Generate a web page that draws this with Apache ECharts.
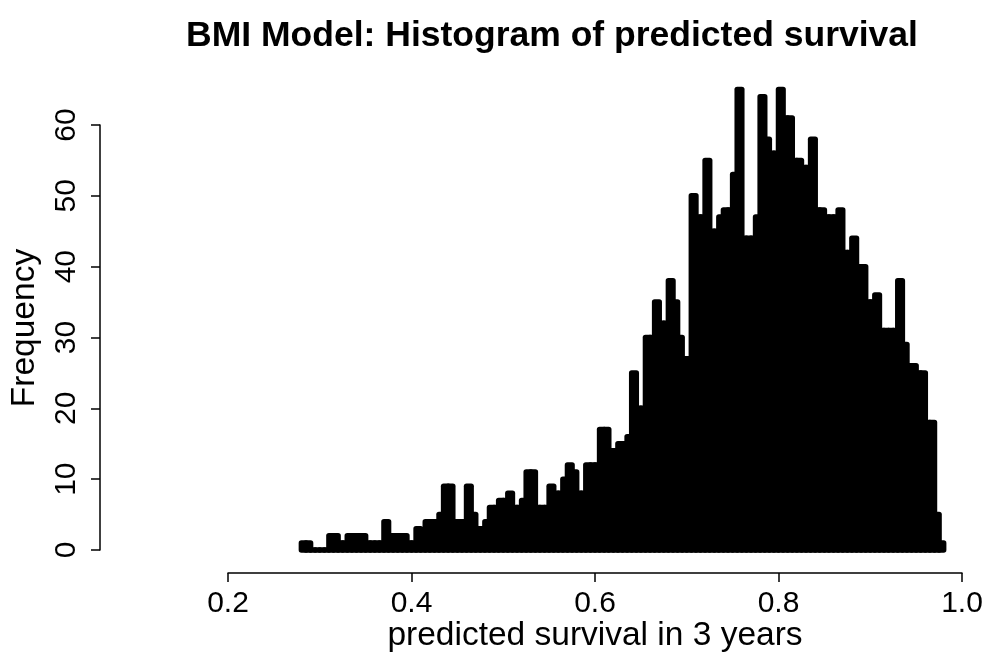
<!DOCTYPE html>
<html>
<head>
<meta charset="utf-8">
<script src="https://cdn.jsdelivr.net/npm/echarts@6/dist/echarts.min.js"></script>
<style>html,body{margin:0;padding:0;background:#fff}#c{width:987px;height:660px}</style>
</head>
<body>
<div id="c"></div>
<script>
// Histogram bin lower edges (width 0.005)
var binLower = [0.28,0.285,0.29,0.295,0.30,0.305,0.31,0.315,0.32,0.325,0.33,0.335,0.34,0.345,0.35,0.355,0.36,0.365,0.37,0.375,
0.38,0.385,0.39,0.395,0.40,0.405,0.41,0.415,0.42,0.425,0.43,0.435,0.44,0.445,0.45,0.455,0.46,0.465,0.47,0.475,
0.48,0.485,0.49,0.495,0.50,0.505,0.51,0.515,0.52,0.525,0.53,0.535,0.54,0.545,0.55,0.555,0.56,0.565,0.57,0.575,
0.58,0.585,0.59,0.595,0.60,0.605,0.61,0.615,0.62,0.625,0.63,0.635,0.64,0.645,0.65,0.655,0.66,0.665,0.67,0.675,
0.68,0.685,0.69,0.695,0.70,0.705,0.71,0.715,0.72,0.725,0.73,0.735,0.74,0.745,0.75,0.755,0.76,0.765,0.77,0.775,
0.78,0.785,0.79,0.795,0.80,0.805,0.81,0.815,0.82,0.825,0.83,0.835,0.84,0.845,0.85,0.855,0.86,0.865,0.87,0.875,
0.88,0.885,0.89,0.895,0.90,0.905,0.91,0.915,0.92,0.925,0.93,0.935,0.94,0.945,0.95,0.955,0.96,0.965,0.97,0.975];
var binUpper = [0.285,0.29,0.295,0.30,0.305,0.31,0.315,0.32,0.325,0.33,0.335,0.34,0.345,0.35,0.355,0.36,0.365,0.37,0.375,0.38,
0.385,0.39,0.395,0.40,0.405,0.41,0.415,0.42,0.425,0.43,0.435,0.44,0.445,0.45,0.455,0.46,0.465,0.47,0.475,0.48,
0.485,0.49,0.495,0.50,0.505,0.51,0.515,0.52,0.525,0.53,0.535,0.54,0.545,0.55,0.555,0.56,0.565,0.57,0.575,0.58,
0.585,0.59,0.595,0.60,0.605,0.61,0.615,0.62,0.625,0.63,0.635,0.64,0.645,0.65,0.655,0.66,0.665,0.67,0.675,0.68,
0.685,0.69,0.695,0.70,0.705,0.71,0.715,0.72,0.725,0.73,0.735,0.74,0.745,0.75,0.755,0.76,0.765,0.77,0.775,0.78,
0.785,0.79,0.795,0.80,0.805,0.81,0.815,0.82,0.825,0.83,0.835,0.84,0.845,0.85,0.855,0.86,0.865,0.87,0.875,0.88,
0.885,0.89,0.895,0.90,0.905,0.91,0.915,0.92,0.925,0.93,0.935,0.94,0.945,0.95,0.955,0.96,0.965,0.97,0.975,0.98];
// Frequency per bin
var frequency = [1,1,0,0,0,0,2,2,1,1, 2,2,2,2,1,1,1,1,4,2,
2,2,2,1,1,3,2,4,4,4, 5,9,9,4,4,4,9,5,3,3,
4,6,6,7,7,8,6,6,7,11, 11,6,6,6,9,8,8,10,12,11,
8,8,12,12,12,17,17,14,14,15, 15,16,25,20,20,30,30,35,32,32,
38,35,30,27,27,50,47,47,55,45, 45,47,48,48,53,65,44,44,44,47,
64,58,56,56,65,61,61,55,55,54, 54,58,48,48,47,47,47,48,42,42,
44,40,40,35,35,36,31,31,31,31, 38,29,26,26,25,25,18,18,5,1];
var xTicks = [0.2,0.4,0.6,0.8,1.0];
var yTicks = [0,10,20,30,40,50,60];

var data = [];
for (var i = 0; i < frequency.length; i++) data.push([binLower[i], binUpper[i], frequency[i]]);

var font = 'Liberation Sans, Arial, Helvetica, sans-serif';
var chart = echarts.init(document.getElementById('c'), null, {renderer: 'canvas'});
chart.setOption({
  animation: false,
  backgroundColor: '#ffffff',
  title: {
    text: 'BMI Model: Histogram of predicted survival',
    left: 547, top: 13, textAlign: 'center',
    textStyle: {fontFamily: font, fontSize: 35.5, fontWeight: 'bold', color: '#000'}
  },
  grid: {left: 228, right: 25, top: 125, bottom: 110, containLabel: false},
  xAxis: {
    type: 'value', min: xTicks[0], max: xTicks[xTicks.length-1], interval: 0.2,
    offset: 23,
    name: 'predicted survival in 3 years', nameLocation: 'middle', nameGap: 46,
    nameMoveOverlap: false,
    nameTextStyle: {fontFamily: font, fontSize: 33.5, color: '#000'},
    axisLine: {show: true, onZero: false, lineStyle: {color: '#000', width: 1.5}},
    axisTick: {show: true, length: 9, lineStyle: {color: '#000', width: 1.5}},
    axisLabel: {fontFamily: font, fontSize: 30, color: '#000', margin: 16,
      formatter: function(v){ return v.toFixed(1); }},
    splitLine: {show: false}
  },
  yAxis: {
    type: 'value', min: yTicks[0], max: yTicks[yTicks.length-1], interval: 10,
    offset: 128,
    name: 'Frequency', nameLocation: 'middle', nameGap: 58, nameRotate: 90,
    nameMoveOverlap: false,
    nameTextStyle: {fontFamily: font, fontSize: 33.5, color: '#000', padding: [0, 0, 0, 19]},
    axisLine: {show: true, onZero: false, lineStyle: {color: '#000', width: 1.5}},
    axisTick: {show: true, length: 9, lineStyle: {color: '#000', width: 1.5}},
    axisLabel: {fontFamily: font, fontSize: 30, color: '#000', rotate: 90, margin: 18},
    splitLine: {show: false}
  },
  series: [{
    type: 'custom',
    clip: false,
    data: data,
    encode: {x: [0, 1], y: 2},
    renderItem: function(params, api) {
      var p0 = api.coord([api.value(0), api.value(2)]);
      var p1 = api.coord([api.value(1), 0]);
      return {
        type: 'rect',
        shape: {x: p0[0], y: p0[1], width: p1[0] - p0[0], height: p1[1] - p0[1]},
        style: {fill: '#000', stroke: '#000', lineWidth: 5.5, lineJoin: 'round'}
      };
    }
  }]
});
</script>
</body>
</html>
